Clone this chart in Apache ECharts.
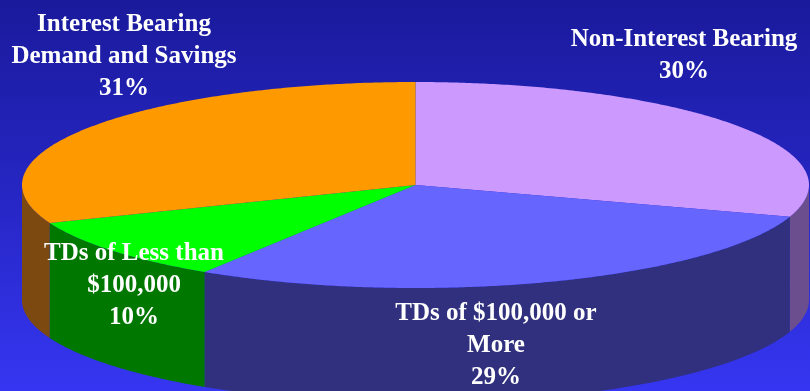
<!DOCTYPE html>
<html><head><meta charset="utf-8">
<script src="https://cdn.jsdelivr.net/npm/echarts@6/dist/echarts.min.js"></script>
<style>html,body{margin:0;padding:0;background:#1a1a9c;overflow:hidden}#c{width:810px;height:391px}</style>
</head><body><div id="c"></div>
<script>
// ---- data ----
const categories = ['Non-Interest Bearing', 'TDs of $100,000 or\nMore', 'TDs of Less than\n$100,000', 'Interest Bearing\nDemand and Savings'];
const shares = [30, 29, 10, 31];
// ---- styles ----
const topColors = ['#CC99FF', '#6666FF', '#00FF00', '#FF9900'];
const sideColors = ['#6a4e8e', '#30307e', '#007800', '#7c4a10'];
const labelPos = [[684, 55.5], [496, 346], [134, 286], [124, 57]];

const CX = 415.5, CY = 185, RX = 393.5, RY = 103, DEPTH = 115, START = 90;
const total = shares.reduce((a, b) => a + b, 0);
const cumBefore = shares.map((v, i) => shares.slice(0, i).reduce((a, b) => a + b, 0));

function pt(deg, dy) {
  const r = deg * Math.PI / 180;
  return [CX + RX * Math.cos(r), CY - RY * Math.sin(r) + (dy || 0)];
}
function arc(from, to, dy) {
  const pts = [];
  const step = from > to ? -0.5 : 0.5;
  const n = Math.max(1, Math.ceil(Math.abs(to - from) / 0.5));
  for (let k = 0; k <= n; k++) pts.push(pt(from + (to - from) * k / n, dy));
  return pts;
}

function renderItem(params, api) {
  const i = params.dataIndex;
  const v = api.value(1);
  const before = api.value(2);
  const a1 = START - before / total * 360;
  const a2 = a1 - v / total * 360;
  const children = [];
  const lo = Math.max(a2, -180), hi = Math.min(a1, 0);
  if (lo < hi) {
    const side = arc(hi, lo, 0).concat(arc(lo, hi, DEPTH));
    children.push({ type: 'polygon', z2: 1, shape: { points: side }, style: { fill: sideColors[i], stroke: null } });
  }
  const top = [[CX, CY]].concat(arc(a1, a2, 0));
  children.push({ type: 'polygon', z2: 10, shape: { points: top }, style: { fill: topColors[i], stroke: null } });
  return { type: 'group', children };
}

const chart = echarts.init(document.getElementById('c'), null, { renderer: 'canvas' });
chart.setOption({
  animation: false,
  backgroundColor: {
    type: 'linear', x: 0, y: 0, x2: 0, y2: 1,
    colorStops: [{ offset: 0, color: '#1a1a9c' }, { offset: 0.5, color: '#2626c4' }, { offset: 1, color: '#3636f2' }]
  },
  series: [{
    type: 'custom',
    coordinateSystem: 'none',
    silent: true,
    data: shares.map((v, i) => [i, v, cumBefore[i]]),
    renderItem
  }],
  graphic: categories.map((name, i) => ({
    type: 'text',
    x: labelPos[i][0], y: labelPos[i][1], z: 100,
    style: {
      text: name + '\n' + shares[i] + '%',
      fill: '#ffffff',
      font: 'bold 25px "Liberation Serif", "Times New Roman", serif',
      align: 'center', textAlign: 'center',
      verticalAlign: 'middle', textVerticalAlign: 'middle',
      lineHeight: 32
    }
  }))
});
</script>
</body></html>
